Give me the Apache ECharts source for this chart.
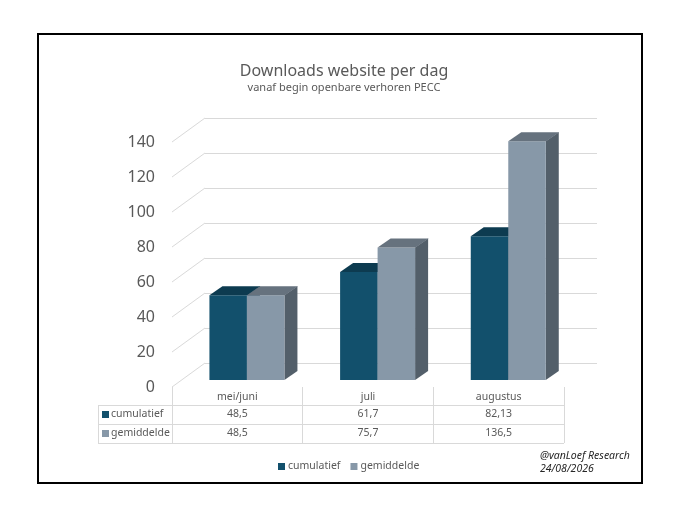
<!DOCTYPE html>
<html>
<head>
<meta charset="utf-8">
<script src="https://cdn.jsdelivr.net/npm/echarts@6/dist/echarts.min.js"></script>
<style>
html,body{margin:0;padding:0;background:#fff;}
#chart{width:688px;height:526px;}
</style>
</head>
<body>
<div id="chart"></div>
<script>
var categories = ['mei/juni', 'juli', 'augustus'];
var cumulatief = [48.5, 61.7, 82.13];
var gemiddelde = [48.5, 75.7, 136.5];
var yTicks = [0, 20, 40, 60, 80, 100, 120, 140];
var seriesNames = ['cumulatief', 'gemiddelde'];

var FONT = 'Noto Sans';
var TXT = '#595959';
var GRID = '#d9d9d9';
var COLORS = {
  cumulatief: {front: '#12506c', top: '#0d3b50', side: '#0b3244'},
  gemiddelde: {front: '#8798a8', top: '#66727e', side: '#535f6a'}
};
var DX = 13, DY = -9;          // bar depth
var WX = 33, WY = -24;         // wall depth

function fmt(v) { return String(v).replace('.', ','); }

function barRenderer(name, offsetIdx) {
  return function (params, api) {
    var i = api.value(0), v = api.value(1);
    var base = api.coord([i, 0]);
    var top = api.coord([i, v]);
    var band = api.size([1, 0])[0];
    var bw = band * 0.287;
    var x0 = base[0] - bw + offsetIdx * bw;
    var x1 = x0 + bw;
    var yb = base[1], yt = top[1];
    var c = COLORS[name];
    return {
      type: 'group',
      children: [
        {type: 'polygon', shape: {points: [[x1, yt], [x1 + DX, yt + DY], [x1 + DX, yb + DY], [x1, yb]]}, style: {fill: c.side}},
        {type: 'rect', shape: {x: x0, y: yt, width: bw, height: yb - yt}, style: {fill: c.front}},
        {type: 'polygon', shape: {points: [[x0, yt], [x1 + 0.5, yt], [x1 + DX + 0.5, yt + DY], [x0 + DX, yt + DY]]}, style: {fill: c.top}}
      ]
    };
  };
}

var chart = echarts.init(document.getElementById('chart'), null, {renderer: 'canvas'});

var option = {
  backgroundColor: '#fff',
  animation: false,
  textStyle: {fontFamily: FONT},
  title: {
    text: 'Downloads website per dag',
    subtext: 'vanaf begin openbare verhoren PECC',
    left: 'center',
    top: 58,
    itemGap: 3,
    textStyle: {fontFamily: FONT, fontSize: 16, fontWeight: 'normal', color: TXT},
    subtextStyle: {fontFamily: FONT, fontSize: 11, color: TXT}
  },
  legend: {
    data: seriesNames,
    left: 273,
    top: 456,
    icon: 'rect',
    itemWidth: 7,
    itemHeight: 7,
    itemGap: 10,
    textStyle: {fontFamily: FONT, fontSize: 10.5, color: TXT, padding: [0, 0, 0, -2]}
  },
  grid: [
    {left: 172, width: 392, top: 142, height: 245},   // front (labels / table)
    {left: 205, width: 392, top: 118, height: 245},   // back wall
    {left: 181.6, width: 392, top: 135, height: 245}  // bars plane
  ],
  xAxis: [
    {
      gridIndex: 0, type: 'category', data: categories, boundaryGap: true,
      axisLine: {show: false},
      axisTick: {show: true, length: 56, alignWithLabel: false, lineStyle: {color: GRID}},
      axisLabel: {margin: 5, fontFamily: FONT, fontSize: 10.5, color: TXT}
    },
    {gridIndex: 1, type: 'category', data: categories, show: false},
    {gridIndex: 2, type: 'category', data: categories, show: false}
  ],
  yAxis: [
    {
      gridIndex: 0, type: 'value', min: 0, max: 140, interval: 20,
      axisLine: {show: false}, axisTick: {show: false}, splitLine: {show: false},
      axisLabel: {margin: 17, fontFamily: FONT, fontSize: 16, color: TXT}
    },
    {
      gridIndex: 1, type: 'value', min: 0, max: 140, interval: 20,
      axisLine: {show: false}, axisTick: {show: false}, axisLabel: {show: false},
      splitLine: {show: true, lineStyle: {color: GRID, width: 1}}
    },
    {gridIndex: 2, type: 'value', min: 0, max: 140, interval: 20, show: false, splitLine: {show: false}}
  ],
  graphic: [
    {type: 'rect', shape: {x: 38, y: 34, width: 604, height: 449}, style: {fill: 'none', stroke: '#000', lineWidth: 2}, z: 100},
    {type: 'text', left: 540, top: 451, style: {text: '@vanLoef Research', font: 'italic 10.5px "Noto Sans"', fill: '#262626'}},
    {type: 'text', left: 540, top: 464, style: {text: '24/08/2026', font: 'italic 10.5px "Noto Sans"', fill: '#262626'}}
  ],
  series: [
    {
      type: 'custom', name: 'walls', xAxisIndex: 0, yAxisIndex: 0, silent: true,
      data: yTicks.map(function (t) { return [0, t]; }),
      renderItem: function (params, api) {
        var y = api.coord([0, api.value(1)])[1];
        var x = params.coordSys.x;
        return {type: 'line', shape: {x1: x, y1: y, x2: x + WX, y2: y + WY}, style: {stroke: GRID, lineWidth: 1}};
      }
    },
    {
      type: 'custom', name: 'cumulatief', xAxisIndex: 2, yAxisIndex: 2,
      itemStyle: {color: COLORS.cumulatief.front},
      data: cumulatief.map(function (v, i) { return [i, v]; }),
      renderItem: barRenderer('cumulatief', 0)
    },
    {
      type: 'custom', name: 'gemiddelde', xAxisIndex: 2, yAxisIndex: 2,
      itemStyle: {color: COLORS.gemiddelde.front},
      data: gemiddelde.map(function (v, i) { return [i, v]; }),
      renderItem: barRenderer('gemiddelde', 1)
    },
    {
      type: 'custom', name: 'table', xAxisIndex: 0, yAxisIndex: 0, silent: true,
      data: categories.map(function (c, i) { return [i, cumulatief[i], gemiddelde[i]]; }),
      renderItem: function (params, api) {
        var i = api.value(0);
        var cs = params.coordSys;
        var cx = api.coord([i, 0])[0];
        var y0 = cs.y + cs.height;
        var r1 = y0 + 18, r2 = r1 + 19, r3 = r2 + 19;
        var txt = {fontFamily: FONT, fontSize: 10.5, fill: TXT, align: 'center', verticalAlign: 'middle'};
        var children = [
          {type: 'text', style: Object.assign({}, txt, {x: cx, y: (r1 + r2) / 2, text: fmt(cumulatief[i])})},
          {type: 'text', style: Object.assign({}, txt, {x: cx, y: (r2 + r3) / 2, text: fmt(gemiddelde[i])})}
        ];
        if (i === 0) {
          var lx = cs.x - 74, rx = cs.x + cs.width;
          [r1, r2, r3].forEach(function (yy) {
            children.push({type: 'line', shape: {x1: lx, y1: yy + 0.5, x2: rx, y2: yy + 0.5}, style: {stroke: GRID, lineWidth: 1}});
          });
          children.push({type: 'line', shape: {x1: lx + 0.5, y1: r1, x2: lx + 0.5, y2: r3}, style: {stroke: GRID, lineWidth: 1}});
          [[seriesNames[0], r1, r2], [seriesNames[1], r2, r3]].forEach(function (row) {
            var yc = (row[1] + row[2]) / 2;
            children.push({type: 'rect', shape: {x: lx + 4, y: yc - 3.5, width: 7, height: 7}, style: {fill: COLORS[row[0]].front}});
            children.push({type: 'text', style: {x: lx + 13, y: yc, text: row[0], fontFamily: FONT, fontSize: 10.5, fill: TXT, align: 'left', verticalAlign: 'middle'}});
          });
        }
        return {type: 'group', children: children};
      }
    }
  ]
};
chart.setOption(option);
</script>
</body>
</html>
